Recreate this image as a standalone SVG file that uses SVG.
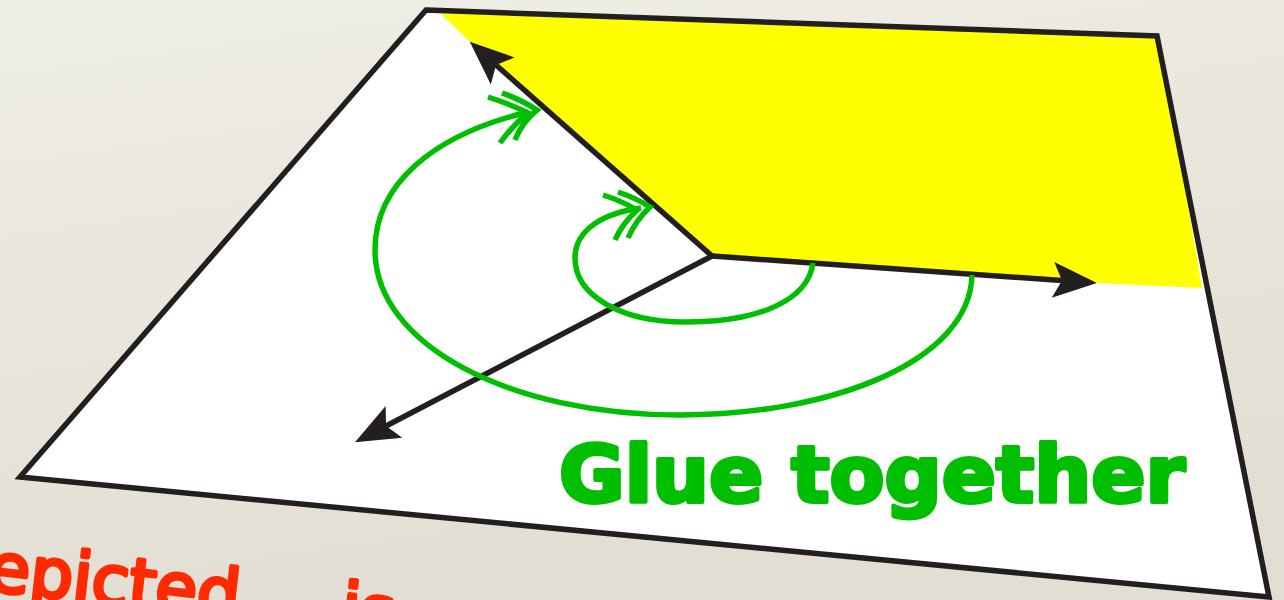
<svg xmlns="http://www.w3.org/2000/svg" width="1284" height="600" viewBox="0 0 1284 600">
  <defs>
    <linearGradient id="bg" x1="0" y1="0" x2="0.3" y2="1">
      <stop offset="0" stop-color="#EFEEE5"/>
      <stop offset="1" stop-color="#E2DED3"/>
    </linearGradient>
    <marker id="blackHead" markerUnits="userSpaceOnUse" markerWidth="60" markerHeight="60" viewBox="-20 -30 60 60" refX="0" refY="0" orient="auto" overflow="visible">
      <path d="M35,0 L-9,-18 L0,0 L-9,18 Z" fill="#231F20"/>
    </marker>
    <style>
      .edge { fill: none; stroke: #231F20; stroke-width: 5.5; stroke-linecap: butt; }
      .glue { fill: none; stroke: #00BF00; stroke-width: 5.5; stroke-linecap: butt; }
      .chev { fill: none; stroke: #00BF00; stroke-width: 5.5; stroke-linecap: butt; stroke-linejoin: miter; }
      .title { font-family: "DejaVu Sans", "Liberation Sans", sans-serif; font-weight: bold; font-size: 78px; fill: #00BF00; stroke: #00BF00; stroke-width: 4; stroke-linejoin: round; }
      .hand { font-family: "DejaVu Sans", "Liberation Sans", sans-serif; font-size: 68px; fill: #FF2A00; stroke: #FF2A00; stroke-width: 4; stroke-linejoin: round; }
    </style>
  </defs>

  <rect x="0" y="0" width="1284" height="600" fill="url(#bg)"/>

  <g id="sheet">
    <polygon points="426,10 1157,36 1269,597 20,477" fill="#FFFFFF"/>
    <polygon id="yellow-region" points="440,13 1159,36 1202,288 1097,283 712,256 470,42" fill="#FFFF00"/>
    <polygon points="426,10 1157,36 1269,597 20,477" fill="none" stroke="#231F20" stroke-width="5.5" stroke-linejoin="miter"/>
  </g>

  <g id="connectors">
    <line class="edge" x1="712" y1="256" x2="496" y2="65" marker-end="url(#blackHead)"/>
    <line class="edge" x1="712" y1="256" x2="1062" y2="280.5" marker-end="url(#blackHead)"/>
    <line class="edge" x1="712" y1="256" x2="386" y2="426" marker-end="url(#blackHead)"/>
  </g>

  <g id="outer-glue">
    <path class="glue" d="M972,275 C970,362 830,415 680,415 C510,415 375,345 375,250 C375,185 432,135 528,112"/>
    <path class="chev" d="M502,93 Q522,100 537,110 Q522,122 515,140"/>
    <path class="chev" d="M488,97 Q510,104 528,113 Q512,126 500,143"/>
  </g>

  <g id="inner-glue">
    <path class="glue" d="M813,263 C808,300 760,322 685,322 C620,322 575,295 575,258 C575,230 603,213 641,208"/>
    <path class="chev" d="M618,192 Q636,198 650,207 Q636,220 628,238"/>
    <path class="chev" d="M603,195 Q622,201 637,210 Q622,224 615,240"/>
  </g>

  <g id="label-glue">
    <text class="title" x="559" y="502" textLength="626" lengthAdjust="spacingAndGlyphs">Glue together</text>
  </g>

  <g id="label-depicted" transform="translate(-14,590) rotate(6.5)">
    <text class="hand" x="-52" y="0">Depicted</text>
    <text class="hand" x="355" y="0">is</text>
    <text class="hand" x="470" y="0">a</text>
    <text class="hand" x="555" y="0">T</text>
  </g>
</svg>
